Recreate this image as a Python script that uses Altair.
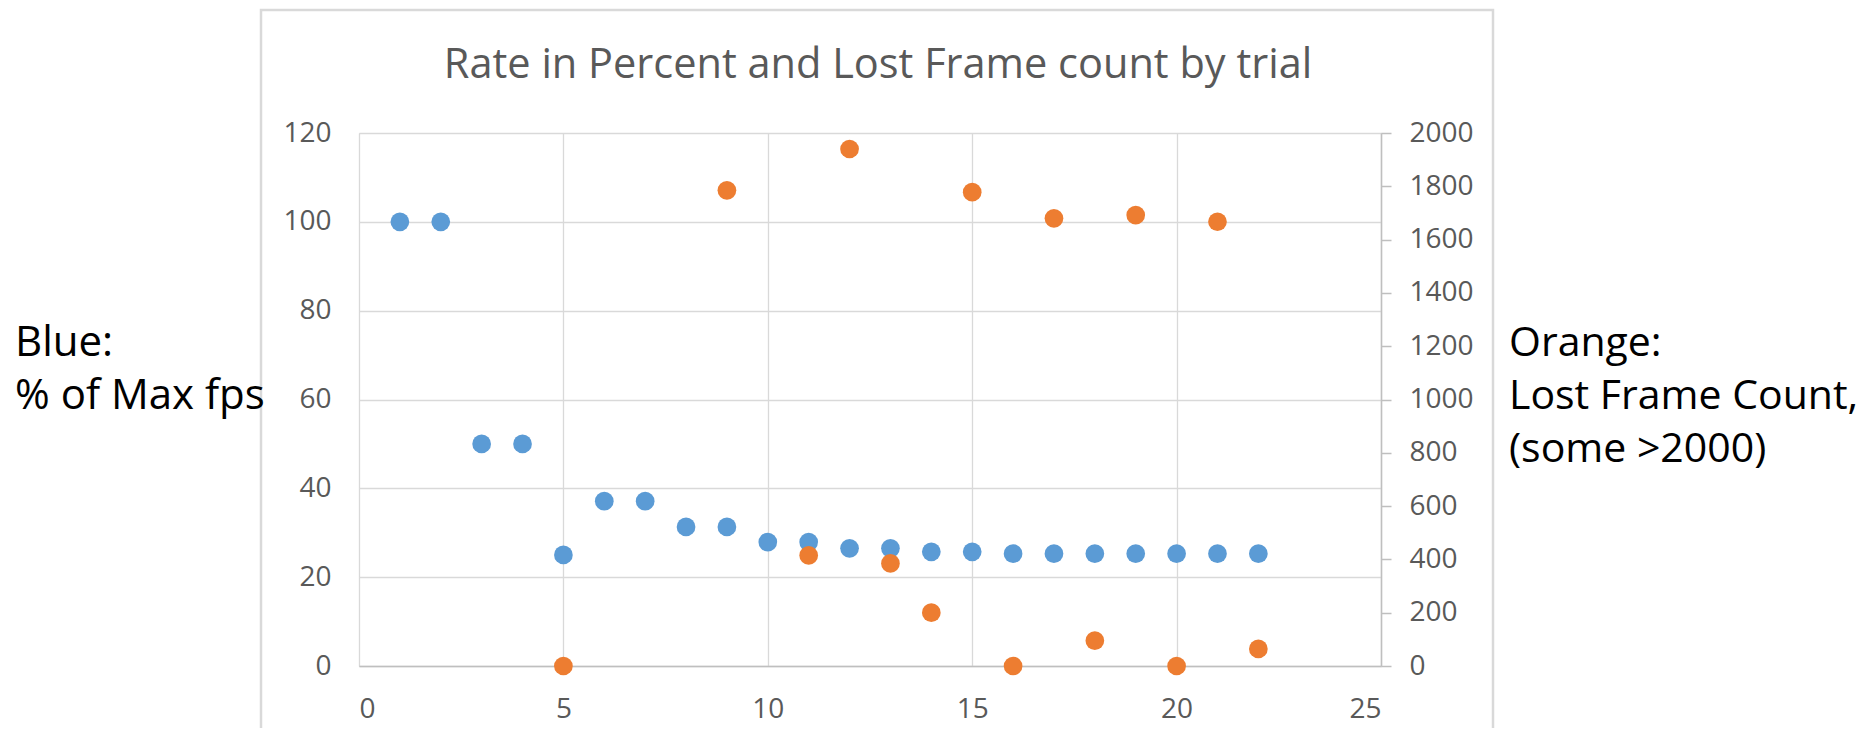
import altair as alt
import pandas as pd

# ---- data ----
trials = list(range(1, 23))
pct_max_fps = [100, 100, 50, 50, 25, 37.1, 37.1, 31.3, 31.3, 27.9, 27.9,
               26.5, 26.5, 25.7, 25.7, 25.3, 25.3, 25.3, 25.3, 25.3, 25.3, 25.3]

lost_trials = [5, 9, 11, 12, 13, 14, 15, 16, 17, 18, 19, 20, 21, 22]
lost_frames = [0, 1785, 415, 1940, 385, 200, 1778, 0, 1680, 95, 1692, 0, 1667, 64]

x_ticks = [0, 5, 10, 15, 20, 25]
left_ticks = [0, 20, 40, 60, 80, 100, 120]
right_ticks = list(range(0, 2001, 200))

title_text = "Rate in Percent and Lost Frame count by trial"
left_note = ["Blue:", "% of Max fps"]
right_note = ["Orange:", "Lost Frame Count,", "(some >2000)"]

BLUE = "#5B9BD5"
ORANGE = "#ED7D31"
GRID = "#d9d9d9"
AXIS = "#bfbfbf"
LABEL = "#595959"
FONT = "Open Sans"

W, H = 1022, 533

blue_df = pd.DataFrame({"trial": trials, "pct": pct_max_fps})
orange_df = pd.DataFrame({"trial": lost_trials, "lost": lost_frames})

x_enc = alt.X(
    "trial:Q",
    scale=alt.Scale(domain=[0, 25], nice=False, zero=False),
    axis=alt.Axis(values=x_ticks, grid=True, gridColor=GRID, gridWidth=1.3,
                  domainColor=AXIS, domainWidth=1.5, ticks=False, tickSize=0,
                  labelFont=FONT, labelFontSize=28, labelColor=LABEL,
                  labelPadding=29, title=None),
)

blue = alt.Chart(blue_df).mark_circle(size=350, opacity=1, color=BLUE).encode(
    x=x_enc,
    y=alt.Y("pct:Q",
            scale=alt.Scale(domain=[0, 120], nice=False),
            axis=alt.Axis(orient="left", values=left_ticks, grid=True,
                          gridColor=GRID, gridWidth=1.3, domain=False,
                          ticks=False, tickSize=0, labelFont=FONT,
                          labelFontSize=28, labelColor=LABEL,
                          labelPadding=28, title=None)),
)

orange = alt.Chart(orange_df).mark_circle(size=350, opacity=1, color=ORANGE).encode(
    x=x_enc,
    y=alt.Y("lost:Q",
            scale=alt.Scale(domain=[0, 2000], nice=False),
            axis=alt.Axis(orient="right", values=right_ticks, grid=False,
                          format="d",
                          domain=True, domainColor=AXIS, domainWidth=1.5,
                          ticks=True, tickSize=10, tickColor=AXIS,
                          tickWidth=1.5, labelFont=FONT, labelFontSize=28,
                          labelColor=LABEL, labelPadding=18, title=None)),
)

one = pd.DataFrame({"k": [0]})

frame = alt.Chart(one).mark_rect(fillOpacity=0, stroke=GRID, strokeWidth=2.5).encode(
    x=alt.value(-98), x2=alt.value(1134), y=alt.value(-123), y2=alt.value(720)
)

title = alt.Chart(pd.DataFrame({"t": [title_text]})).mark_text(
    font=FONT, fontSize=41.5, color=LABEL, align="center", baseline="alphabetic"
).encode(text="t:N", x=alt.value(519), y=alt.value(-55))

left_lines = [
    alt.Chart(pd.DataFrame({"t": [s]})).mark_text(
        font=FONT, fontSize=42, color="black", align="left", baseline="alphabetic"
    ).encode(text="t:N", x=alt.value(-344), y=alt.value(223 + 53 * i))
    for i, s in enumerate(left_note)
]
right_lines = [
    alt.Chart(pd.DataFrame({"t": [s]})).mark_text(
        font=FONT, fontSize=41, color="black", align="left", baseline="alphabetic"
    ).encode(text="t:N", x=alt.value(1150), y=alt.value(223 + 53 * i))
    for i, s in enumerate(right_note)
]

chart = alt.layer(blue, orange, frame, title, *left_lines, *right_lines).resolve_scale(
    y="independent"
).properties(
    width=W, height=H,
    autosize=alt.AutoSizeParams(type="none"),
    padding={"left": 351, "top": 125, "right": 479, "bottom": 62},
).configure_view(strokeWidth=0).configure(background="white")

chart.save("out.html", embed_options={"renderer": "svg", "actions": False})
